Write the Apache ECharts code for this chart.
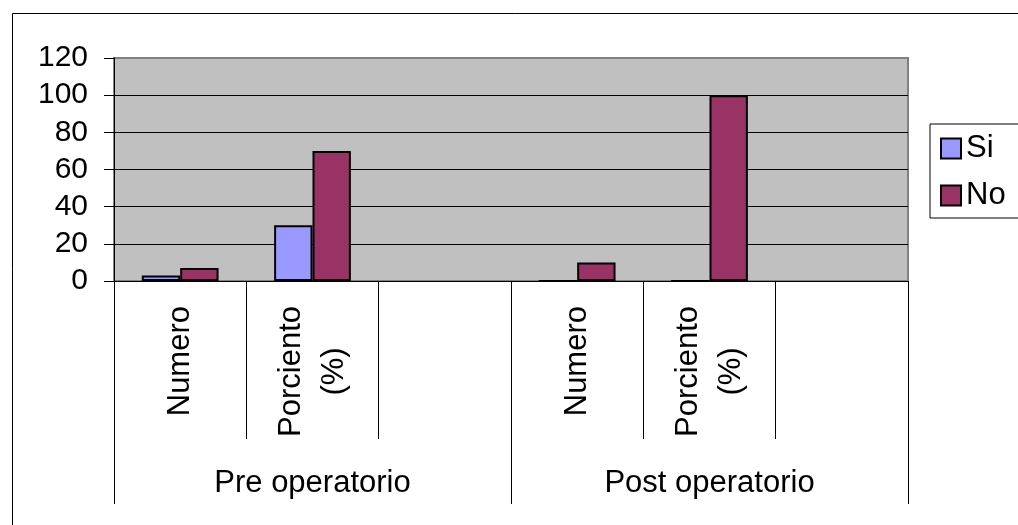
<!DOCTYPE html>
<html>
<head>
<meta charset="utf-8">
<script src="https://cdn.jsdelivr.net/npm/echarts@6/dist/echarts.min.js"></script>
<style>
html,body{margin:0;padding:0;background:#fff;}
#chart{width:1018px;height:525px;}
</style>
</head>
<body>
<div id="chart"></div>
<script>
const categories = ['Numero', 'Porciento\n(%)', '', 'Numero', 'Porciento\n(%)', ''];
const groups = ['Pre operatorio', 'Post operatorio'];
const seriesNames = ['Si', 'No'];
const siValues = [3, 30, null, 0, 0, null];
const noValues = [7, 70, null, 10, 100, null];
const yMin = 0, yMax = 120, yStep = 20;

const FONT = "'Liberation Sans', Arial, sans-serif";
const chart = echarts.init(document.getElementById('chart'), null, {renderer: 'canvas'});

chart.setOption({
  animation: false,
  backgroundColor: '#fff',
  graphic: [{
    type: 'rect', left: 10, top: 11, z: 100, silent: true,
    shape: {width: 1040, height: 540},
    style: {fill: 'none', stroke: '#000', lineWidth: 1}
  }],
  legend: {
    orient: 'vertical', left: 930, top: 124,
    padding: [9, 30, 7, 10],
    itemGap: 16, itemWidth: 20, itemHeight: 20,
    backgroundColor: '#fff', borderColor: '#000', borderWidth: 1,
    icon: 'rect',
    textStyle: {fontFamily: FONT, fontSize: 31, color: '#000', padding: [0, 0, 0, 0]},
    data: seriesNames
  },
  grid: {
    left: 114, top: 58, right: 110, bottom: 244,
    show: true, backgroundColor: '#C0C0C0', borderColor: '#808080', borderWidth: 2,
    containLabel: false
  },
  xAxis: [{
    type: 'category', data: categories, position: 'bottom', boundaryGap: true,
    axisLine: {show: true, lineStyle: {color: '#000', width: 1}},
    axisTick: {show: true, interval: 0, length: 158, lineStyle: {color: '#000', width: 1}},
    axisLabel: {
      interval: 0, rotate: 90, margin: 25, color: '#000',
      fontFamily: FONT, fontSize: 31,
      formatter: function (v) {
        if (!v) return '';
        return v.split('\n').map(function (s) { return '{p|' + s + '}'; }).join('\n');
      },
      rich: {p: {fontFamily: FONT, fontSize: 31, color: '#000', align: 'center', lineHeight: 43}}
    },
    splitLine: {show: false}
  }, {
    type: 'category', data: groups, position: 'bottom', boundaryGap: true,
    axisLine: {show: false},
    axisTick: {show: true, interval: 0, length: 223, lineStyle: {color: '#000', width: 1}},
    axisLabel: {interval: 0, margin: 187, color: '#000', fontFamily: FONT, fontSize: 31},
    splitLine: {show: false}
  }],
  yAxis: {
    type: 'value', min: yMin, max: yMax, interval: yStep,
    axisLine: {show: true, lineStyle: {color: '#000', width: 1}},
    axisTick: {show: true, length: 10, lineStyle: {color: '#000', width: 1}},
    axisLabel: {margin: 26, color: '#000', fontFamily: FONT, fontSize: 30},
    splitLine: {show: true, showMaxLine: false, showMinLine: false, lineStyle: {color: '#000', width: 1}}
  },
  series: [{
    name: seriesNames[0], type: 'bar', xAxisIndex: 0, data: siValues,
    barWidth: '29%', barGap: '0%',
    itemStyle: {color: '#9999FF', borderColor: '#000', borderWidth: 2}
  }, {
    name: seriesNames[1], type: 'bar', xAxisIndex: 0, data: noValues,
    barWidth: '29%', barGap: '0%',
    itemStyle: {color: '#993366', borderColor: '#000', borderWidth: 2}
  }]
});
</script>
</body>
</html>
